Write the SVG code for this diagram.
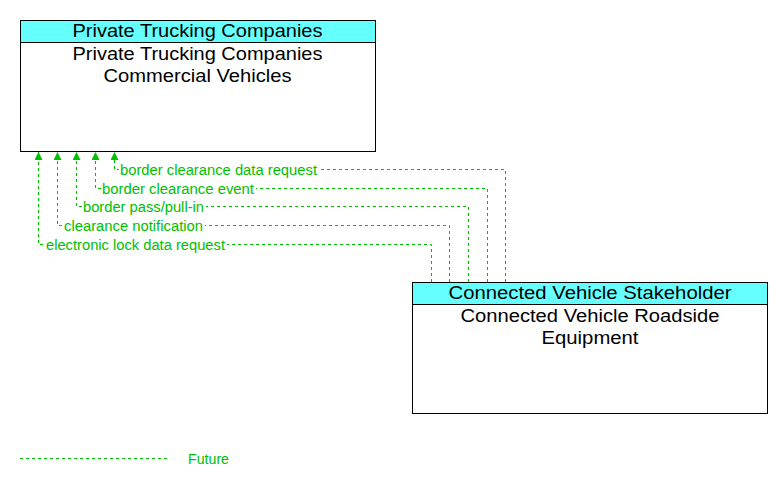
<svg xmlns="http://www.w3.org/2000/svg" width="782" height="485" viewBox="0 0 782 485">
<defs>
<style>
.box{fill:#ffffff;stroke:#000000;stroke-width:1}
.hdr{fill:#66ffff;stroke:#000000;stroke-width:1}
.t{font-family:"Liberation Sans",Arial,sans-serif;font-size:17.5px;fill:#000000;text-anchor:middle}
.flow{fill:none;stroke:#00c000;stroke-width:1;stroke-dasharray:3 3}
.lbl{font-family:"Liberation Sans",Arial,sans-serif;font-size:14px;fill:#00c000}
.bg{fill:#ffffff}
</style>
<marker id="ah" viewBox="0 0 8 8" refX="8" refY="4" markerWidth="8" markerHeight="8" markerUnits="userSpaceOnUse" orient="auto">
<path d="M0,0 L8,4 L0,8 Z" fill="#00c000"/>
</marker>
</defs>
<rect width="782" height="485" fill="#ffffff"/>
<g id="node-ptc">
<rect class="box" x="20.5" y="20.5" width="355" height="131"/>
<rect class="hdr" x="20.5" y="20.5" width="355" height="22"/>
<text class="t" x="197.5" y="37" textLength="250" lengthAdjust="spacingAndGlyphs">Private Trucking Companies</text>
<text class="t" x="197.5" y="60" textLength="250" lengthAdjust="spacingAndGlyphs">Private Trucking Companies</text>
<text class="t" x="197.5" y="82" textLength="188" lengthAdjust="spacingAndGlyphs">Commercial Vehicles</text>
</g>
<g id="node-cvrse">
<rect class="box" x="412.5" y="282.5" width="355" height="131"/>
<rect class="hdr" x="412.5" y="282.5" width="355" height="22"/>
<text class="t" x="590" y="299" textLength="283" lengthAdjust="spacingAndGlyphs">Connected Vehicle Stakeholder</text>
<text class="t" x="590" y="322" textLength="259" lengthAdjust="spacingAndGlyphs">Connected Vehicle Roadside</text>
<text class="t" x="590" y="344" textLength="97" lengthAdjust="spacingAndGlyphs">Equipment</text>
</g>
<g id="connectors">
<polyline class="flow" points="505.5,282 505.5,169.5 114.5,169.5 114.5,152" marker-end="url(#ah)"/>
<polyline class="flow" points="487.5,282 487.5,188.5 95.5,188.5 95.5,152" marker-end="url(#ah)"/>
<polyline class="flow" points="468.5,282 468.5,206.5 76.5,206.5 76.5,152" marker-end="url(#ah)"/>
<polyline class="flow" points="449.5,282 449.5,225.5 57.5,225.5 57.5,152" marker-end="url(#ah)"/>
<polyline class="flow" points="431.5,282 431.5,244.5 38.5,244.5 38.5,152" marker-end="url(#ah)"/>
<rect class="bg" x="119" y="162" width="200" height="14"/>
<text class="lbl" x="120" y="175" textLength="197" lengthAdjust="spacingAndGlyphs">border clearance data request</text>
<rect class="bg" x="101" y="181" width="155" height="14"/>
<text class="lbl" x="102" y="194" textLength="152" lengthAdjust="spacingAndGlyphs">border clearance event</text>
<rect class="bg" x="82" y="199" width="124" height="14"/>
<text class="lbl" x="83" y="212" textLength="121" lengthAdjust="spacingAndGlyphs">border pass/pull-in</text>
<rect class="bg" x="63" y="218" width="142" height="14"/>
<text class="lbl" x="64" y="231" textLength="139" lengthAdjust="spacingAndGlyphs">clearance notification</text>
<rect class="bg" x="45" y="237" width="182" height="14"/>
<text class="lbl" x="46" y="250" textLength="179" lengthAdjust="spacingAndGlyphs">electronic lock data request</text>
</g>
<g id="legend">
<line class="flow" x1="20" y1="458.5" x2="167" y2="458.5"/>
<text class="lbl" x="188" y="464" textLength="41" lengthAdjust="spacingAndGlyphs">Future</text>
</g>
</svg>
